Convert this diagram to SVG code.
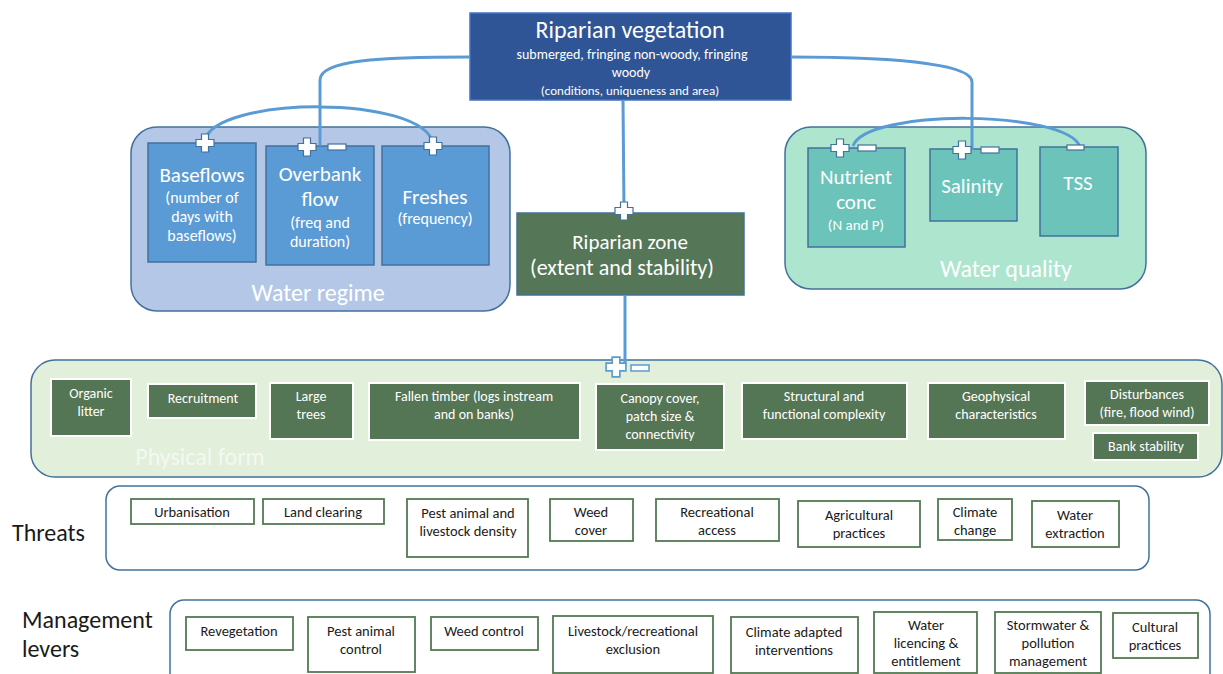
<svg xmlns="http://www.w3.org/2000/svg" width="1223" height="674" viewBox="0 0 1223 674">
<defs>
<style>
text{font-family:Carlito,Lato,"Open Sans",sans-serif;text-anchor:middle}
.w{fill:#ffffff}
.k{fill:#1a1a1a}
.grp{stroke:#41719C;stroke-width:1.5}
.blue{fill:#5B9BD5;stroke:#41719C;stroke-width:1.5}
.teal{fill:#6CC3B9;stroke:#41719C;stroke-width:1.5}
.dg{fill:#547655;stroke:#ffffff;stroke-width:2}
.tb{fill:#ffffff;stroke:#527A52;stroke-width:1.8}
.con{fill:none;stroke:#5B9BD5;stroke-width:3}
.sym{fill:#ffffff;stroke:#41719C;stroke-width:1.2}
.sym2{fill:#ffffff;stroke:#5B9BD5;stroke-width:1.5}
.s{font-size:14px}
.t{font-size:14.5px}
.m{font-size:16px}
.b{font-size:21px}
.L{font-size:24px}
</style>
<path id="plus" d="M-3.5,-9H3.5V-3.5H9V3.5H3.5V9H-3.5V3.5H-9V-3.5H-3.5Z"/>
<rect id="minus" x="-9" y="-3" width="18" height="6"/>
</defs>

<g id="water-regime">
<rect x="131" y="127" width="379" height="184" rx="26" fill="#B4C7E7" class="grp"/>
<text x="318" y="301" class="w L">Water regime</text>
</g>
<g id="baseflows">
<rect x="148" y="143" width="108" height="119" class="blue"/>
<text x="202" y="182" class="w b">Baseflows</text>
<text x="202" y="203" class="w m">(number of</text>
<text x="202" y="222" class="w m">days with</text>
<text x="202" y="241" class="w m">baseflows)</text>
</g>
<g id="overbank">
<rect x="266" y="146" width="108" height="119" class="blue"/>
<text x="320" y="181" class="w b">Overbank</text>
<text x="320" y="206" class="w b">flow</text>
<text x="320" y="228" class="w m">(freq and</text>
<text x="320" y="247" class="w m">duration)</text>
</g>
<g id="freshes">
<rect x="382" y="146" width="107" height="119" class="blue"/>
<text x="435" y="204" class="w b">Freshes</text>
<text x="435" y="224" class="w m">(frequency)</text>
</g>

<g id="water-quality">
<rect x="785" y="127" width="361" height="162" rx="26" fill="#ADE5CF" class="grp"/>
<text x="1006" y="277" class="w L">Water quality</text>
</g>
<g id="nutrient">
<rect x="808" y="148" width="97" height="99" class="teal"/>
<text x="856" y="184" class="w b">Nutrient</text>
<text x="856" y="209" class="w b">conc</text>
<text x="856" y="230" class="w" font-size="15">(N and P)</text>
</g>
<g id="salinity">
<rect x="930" y="149" width="87" height="72" class="teal"/>
<text x="972" y="193" class="w b">Salinity</text>
</g>
<g id="tss">
<rect x="1040" y="147" width="78" height="89" class="teal"/>
<text x="1078" y="190" class="w b">TSS</text>
</g>

<g id="riparian-vegetation">
<rect x="470" y="13" width="321" height="87" fill="#2F5597" stroke="#4472C4" stroke-width="1.5"/>
<text x="630" y="38" class="w L">Riparian vegetation</text>
<text x="632" y="59" class="w s">submerged, fringing non-woody, fringing</text>
<text x="631" y="77" class="w s">woody</text>
<text x="630" y="95" class="w" font-size="13">(conditions, uniqueness and area)</text>
</g>

<g id="riparian-zone">
<rect x="517" y="213" width="227" height="82" fill="#557757" stroke="#41719C" stroke-width="1.5"/>
<text x="630" y="249" class="w" font-size="21">Riparian zone</text>
<text x="622" y="275" class="w" font-size="22">(extent and stability)</text>
</g>

<g id="physical-form">
<rect x="31" y="360" width="1191" height="117" rx="24" fill="#E2EFDA" class="grp"/>
<text x="200" y="465" fill="#F4F8F1" class="L">Physical form</text>
</g>
<g id="organic-litter"><rect x="51" y="379" width="80" height="57" class="dg"/><text x="91" y="398" class="w s">Organic</text><text x="91" y="416" class="w s">litter</text></g>
<g id="recruitment"><rect x="148" y="384" width="108" height="34" class="dg"/><text x="203" y="403" class="w s">Recruitment</text></g>
<g id="large-trees"><rect x="270" y="383" width="83" height="56" class="dg"/><text x="311" y="401" class="w s">Large</text><text x="311" y="419" class="w s">trees</text></g>
<g id="fallen-timber"><rect x="369" y="383" width="211" height="57" class="dg"/><text x="474" y="401" class="w s">Fallen timber (logs instream</text><text x="474" y="419" class="w s">and on banks)</text></g>
<g id="canopy"><rect x="596" y="384" width="128" height="66" class="dg"/><text x="660" y="403" class="w s">Canopy cover,</text><text x="660" y="421" class="w s">patch size &amp;</text><text x="660" y="439" class="w s">connectivity</text></g>
<g id="structural"><rect x="742" y="383" width="165" height="56" class="dg"/><text x="824" y="401" class="w s">Structural and</text><text x="824" y="419" class="w s">functional complexity</text></g>
<g id="geophysical"><rect x="928" y="383" width="137" height="56" class="dg"/><text x="996" y="401" class="w s">Geophysical</text><text x="996" y="419" class="w s">characteristics</text></g>
<g id="disturbances"><rect x="1085" y="381" width="124" height="44" class="dg"/><text x="1147" y="399" class="w s">Disturbances</text><text x="1147" y="417" class="w s">(fire, flood wind)</text></g>
<g id="bank-stability"><rect x="1093" y="433" width="105" height="27" class="dg"/><text x="1146" y="451" class="w s">Bank stability</text></g>

<g id="threats">
<text x="12" y="541" class="k L" style="text-anchor:start">Threats</text>
<rect x="106" y="486" width="1043" height="84" rx="14" fill="#ffffff" class="grp"/>
</g>
<g id="urbanisation"><rect x="131" y="499" width="123" height="25" class="tb"/><text x="192" y="517" class="k t">Urbanisation</text></g>
<g id="land-clearing"><rect x="263" y="499" width="121" height="25" class="tb"/><text x="323" y="517" class="k t">Land clearing</text></g>
<g id="pest-density"><rect x="407" y="499" width="121" height="58" class="tb"/><text x="468" y="518" class="k t">Pest animal and</text><text x="468" y="536" class="k t">livestock density</text></g>
<g id="weed-cover"><rect x="550" y="499" width="83" height="42" class="tb"/><text x="591" y="517" class="k t">Weed</text><text x="591" y="535" class="k t">cover</text></g>
<g id="recreational-access"><rect x="656" y="499" width="123" height="42" class="tb"/><text x="717" y="517" class="k t">Recreational</text><text x="717" y="535" class="k t">access</text></g>
<g id="agricultural"><rect x="798" y="501" width="122" height="46" class="tb"/><text x="859" y="520" class="k t">Agricultural</text><text x="859" y="538" class="k t">practices</text></g>
<g id="climate-change"><rect x="938" y="499" width="74" height="41" class="tb"/><text x="975" y="517" class="k t">Climate</text><text x="975" y="535" class="k t">change</text></g>
<g id="water-extraction"><rect x="1032" y="501" width="87" height="46" class="tb"/><text x="1075" y="520" class="k t">Water</text><text x="1075" y="538" class="k t">extraction</text></g>

<g id="management">
<text x="22" y="628" class="k L" style="text-anchor:start">Management</text>
<text x="22" y="657" class="k L" style="text-anchor:start">levers</text>
<rect x="170" y="600" width="1040" height="100" rx="14" fill="#ffffff" class="grp"/>
</g>
<g id="revegetation"><rect x="186" y="617" width="107" height="33" class="tb"/><text x="239" y="636" class="k t">Revegetation</text></g>
<g id="pest-control"><rect x="308" y="617" width="107" height="55" class="tb"/><text x="361" y="636" class="k t">Pest animal</text><text x="361" y="654" class="k t">control</text></g>
<g id="weed-control"><rect x="431" y="617" width="107" height="33" class="tb"/><text x="484" y="636" class="k t">Weed control</text></g>
<g id="livestock-exclusion"><rect x="553" y="616" width="160" height="57" class="tb"/><text x="633" y="636" class="k t">Livestock/recreational</text><text x="633" y="654" class="k t">exclusion</text></g>
<g id="climate-adapted"><rect x="731" y="617" width="127" height="56" class="tb"/><text x="794" y="637" class="k t">Climate adapted</text><text x="794" y="655" class="k t">interventions</text></g>
<g id="water-licencing"><rect x="874" y="612" width="103" height="61" class="tb"/><text x="926" y="630" class="k t">Water</text><text x="926" y="648" class="k t">licencing &amp;</text><text x="926" y="666" class="k t">entitlement</text></g>
<g id="stormwater"><rect x="995" y="612" width="106" height="61" class="tb"/><text x="1048" y="630" class="k t">Stormwater &amp;</text><text x="1048" y="648" class="k t">pollution</text><text x="1048" y="666" class="k t">management</text></g>
<g id="cultural"><rect x="1113" y="613" width="85" height="45" class="tb"/><text x="1155" y="632" class="k t">Cultural</text><text x="1155" y="650" class="k t">practices</text></g>

<g id="connectors">
<path class="con" d="M470,57 C380,57 320,60 320,80 L320,146"/>
<path class="con" d="M205,141 C212,96 425,94 433,144"/>
<path class="con" d="M791,57 C880,57 972,62 972,82 L972,150"/>
<path class="con" d="M853,146 C866,108 1068,110 1080,147"/>
<path class="con" d="M623,100 L624,211"/>
<path class="con" d="M625,295 L625,365"/>
<use href="#plus" class="sym" x="205" y="143"/>
<use href="#plus" class="sym" x="307" y="147"/>
<use href="#minus" class="sym" x="337" y="147"/>
<use href="#plus" class="sym" x="433" y="146"/>
<use href="#plus" class="sym" x="840" y="148"/>
<use href="#minus" class="sym" x="867" y="148"/>
<use href="#plus" class="sym" x="962" y="150"/>
<use href="#minus" class="sym" x="990" y="150"/>
<rect x="1067" y="145" width="17" height="5" class="sym"/>
<use href="#plus" class="sym" x="624" y="211"/>
<use href="#plus" class="sym2" x="616" y="367" transform="translate(616,367) scale(1.1) translate(-616,-367)"/>
<use href="#minus" class="sym2" x="640" y="368"/>
</g>
</svg>
